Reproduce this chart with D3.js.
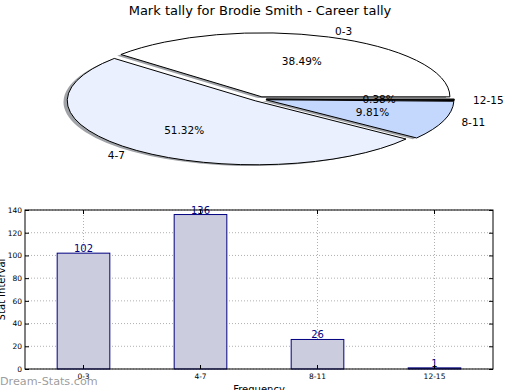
<!DOCTYPE html>
<html>
<head>
<meta charset="utf-8">
<script src="https://cdn.jsdelivr.net/npm/d3@7"></script>
<style>
  body { margin: 0; background: #fff; }
  svg { font-family: "DejaVu Sans", sans-serif; display: block; }
</style>
</head>
<body>
<div id="grafico"></div>
<script>
// dados do gráfico
const categorias = ["0-3", "4-7", "8-11", "12-15"];
const contagens = [102, 136, 26, 1];
const percentuais = ["38.49%", "51.32%", "9.81%", "0.38%"];
const coresFatias = ["#ffffff", "#eaf0fd", "#c4d8fe", "#1a1a1a"];
const ticksY = [0, 20, 40, 60, 80, 100, 120, 140];

const largura = 520, altura = 390;
const svg = d3.select("#grafico").append("svg")
    .attr("width", largura)
    .attr("height", altura);

// titulo
svg.append("text")
    .attr("x", 260).attr("y", 15)
    .attr("text-anchor", "middle")
    .attr("font-size", 13)
    .text("Mark tally for Brodie Smith - Career tally");

// ---- pizza (elipse, com explode e sombra) ----
const cx = 259.5, cy = 99, rx = 188, ry = 64, explode = 0.036;
const escalaY = ry / rx;

const pizza = d3.pie().sort(null)
    .startAngle(Math.PI / 2)
    .endAngle(Math.PI / 2 - 2 * Math.PI);
const fatias = pizza(contagens);
const arco = d3.arc().innerRadius(0).outerRadius(rx);

const gPizza = svg.append("g")
    .attr("transform", `translate(${cx},${cy}) scale(1,${escalaY})`);

function deslocamento(d) {
    const a = (d.startAngle + d.endAngle) / 2;
    return [explode * rx * Math.sin(a), -explode * rx * Math.cos(a)];
}

// sombras primeiro
gPizza.selectAll("path.sombra")
    .data(fatias)
    .join("path")
    .attr("class", "sombra")
    .attr("d", arco)
    .attr("transform", d => {
        const [dx, dy] = deslocamento(d);
        return `translate(${dx - 0.02 * rx},${dy + 0.02 * rx})`;
    })
    .attr("fill", "#9fa2a6");

gPizza.selectAll("path.fatia")
    .data(fatias)
    .join("path")
    .attr("class", "fatia")
    .attr("d", arco)
    .attr("transform", d => {
        const [dx, dy] = deslocamento(d);
        return `translate(${dx},${dy})`;
    })
    .attr("fill", (d, i) => coresFatias[i])
    .attr("stroke", "#000")
    .attr("stroke-width", 1)
    .attr("vector-effect", "non-scaling-stroke");

// rotulos da pizza
fatias.forEach((d, i) => {
    const a = (d.startAngle + d.endAngle) / 2;
    const s = Math.sin(a), c = Math.cos(a);
    svg.append("text")
        .attr("x", cx + (explode + 1.1) * rx * s)
        .attr("y", cy - (explode + 1.1) * ry * c)
        .attr("dy", "0.35em")
        .attr("text-anchor", s > 0 ? "start" : "end")
        .attr("font-size", 10.5)
        .text(categorias[i]);
    svg.append("text")
        .attr("x", cx + (explode + 0.6) * rx * s)
        .attr("y", cy - (explode + 0.6) * ry * c)
        .attr("dy", "0.35em")
        .attr("text-anchor", "middle")
        .attr("font-size", 10.5)
        .text(percentuais[i]);
});

// ---- grafico de barras ----
const margem = {top: 210, right: 27, bottom: 21, left: 25};
const x0 = margem.left, x1 = largura - margem.right;
const y0 = altura - margem.bottom, y1 = margem.top;

const eixoX = d3.scaleBand().domain(categorias).range([x0, x1])
    .paddingInner(0.55).paddingOuter(0.275);
const eixoY = d3.scaleLinear().domain([0, 140]).range([y0, y1]);

const gBarras = svg.append("g");

// grade pontilhada
gBarras.selectAll("line.gy")
    .data(ticksY)
    .join("line")
    .attr("x1", x0).attr("x2", x1)
    .attr("y1", d => eixoY(d)).attr("y2", d => eixoY(d))
    .attr("stroke", "#b0b0b0").attr("stroke-dasharray", "1,2");
gBarras.selectAll("line.gx")
    .data(categorias)
    .join("line")
    .attr("x1", d => eixoX(d) + eixoX.bandwidth() / 2)
    .attr("x2", d => eixoX(d) + eixoX.bandwidth() / 2)
    .attr("y1", y0).attr("y2", y1)
    .attr("stroke", "#b0b0b0").attr("stroke-dasharray", "1,2");

// barras
gBarras.selectAll("rect.barra")
    .data(contagens)
    .join("rect")
    .attr("x", (d, i) => eixoX(categorias[i]))
    .attr("y", d => eixoY(d))
    .attr("width", eixoX.bandwidth())
    .attr("height", d => eixoY(0) - eixoY(d))
    .attr("fill", "#ccccdf")
    .attr("stroke", "#000080")
    .attr("stroke-width", 1);

// valores em cima das barras
gBarras.selectAll("text.valor")
    .data(contagens)
    .join("text")
    .attr("x", (d, i) => eixoX(categorias[i]) + eixoX.bandwidth() / 2)
    .attr("y", d => eixoY(d) - 1)
    .attr("text-anchor", "middle")
    .attr("font-size", 10)
    .attr("fill", "#000080")
    .text(d => d);

// eixos (ticks para dentro)
const eixoEsq = svg.append("g").attr("transform", `translate(${x0},0)`)
    .call(d3.axisLeft(eixoY).tickValues(ticksY).tickSize(-4).tickPadding(3));
const eixoDir = svg.append("g").attr("transform", `translate(${x1},0)`)
    .call(d3.axisRight(eixoY).tickValues(ticksY).tickSize(-4).tickFormat(""));
const eixoInf = svg.append("g").attr("transform", `translate(0,${y0})`)
    .call(d3.axisBottom(eixoX).tickSize(-4).tickPadding(5));
const eixoSup = svg.append("g").attr("transform", `translate(0,${y1})`)
    .call(d3.axisTop(eixoX).tickSize(-4).tickFormat(""));
[eixoEsq, eixoDir, eixoInf, eixoSup].forEach(g => {
    g.select(".domain").remove();
    g.selectAll("text").attr("font-size", 7.5).attr("font-family", "DejaVu Sans");
});

// moldura
svg.append("rect")
    .attr("x", x0).attr("y", y1)
    .attr("width", x1 - x0).attr("height", y0 - y1)
    .attr("fill", "none").attr("stroke", "#000");

// rotulos dos eixos
svg.append("text")
    .attr("x", (x0 + x1) / 2).attr("y", 393)
    .attr("text-anchor", "middle")
    .attr("font-size", 10)
    .text("Frequency");
svg.append("text")
    .attr("transform", `translate(5,${(y0 + y1) / 2}) rotate(-90)`)
    .attr("text-anchor", "middle")
    .attr("font-size", 10)
    .text("Stat Interval");

// marca d'agua
svg.append("text")
    .attr("x", 0).attr("y", 385)
    .attr("font-size", 11.2)
    .attr("fill", "#8a8a8a")
    .attr("fill-opacity", 0.85)
    .text("Dream-Stats.com");
</script>
</body>
</html>
